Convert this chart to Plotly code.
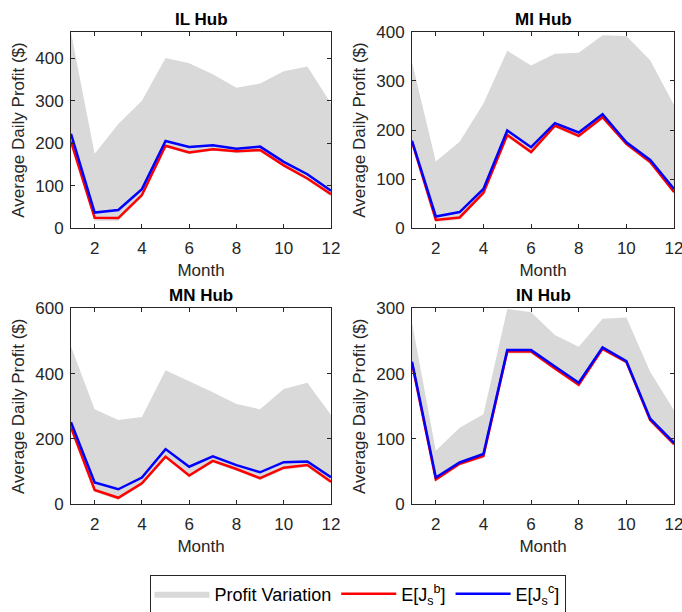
import plotly.graph_objects as go

months = list(range(1, 13))

hubs = ["IL Hub", "MI Hub", "MN Hub", "IN Hub"]

il_upper = [460, 175, 245, 300, 400, 388, 362, 330, 340, 369, 380, 293]
il_lower = [200, 18, 18, 73, 190, 174, 182, 177, 180, 144, 113, 76]
il_eb = [204, 25, 24, 78, 194, 178, 186, 181, 184, 148, 117, 80]
il_ec = [222, 37, 43, 92, 205, 191, 195, 187, 192, 156, 127, 88]

mi_upper = [338, 136, 176, 254, 361, 331, 355, 357, 393, 391, 342, 251]
mi_lower = [172, 13, 18, 68, 186, 151, 205, 184, 222, 168, 131, 70]
mi_eb = [176, 17, 22, 72, 190, 155, 209, 188, 226, 172, 135, 74]
mi_ec = [178, 24, 33, 80, 199, 165, 214, 195, 232, 175, 139, 80]

mn_upper = [483, 291, 258, 267, 410, 377, 343, 307, 291, 353, 372, 273]
mn_lower = [229, 38, 13, 58, 140, 82, 127, 102, 74, 106, 114, 63]
mn_eb = [235, 44, 20, 64, 146, 88, 133, 108, 80, 112, 120, 69]
mn_ec = [251, 67, 46, 82, 169, 115, 147, 120, 98, 129, 131, 83]

in_upper = [278, 82, 117, 138, 299, 294, 259, 241, 284, 286, 203, 144]
in_lower = [213, 35, 59, 71, 231, 231, 205, 180, 235, 215, 126, 89]
in_eb = [216, 38, 62, 74, 234, 234, 208, 183, 238, 218, 129, 92]
in_ec = [218, 41, 64, 77, 236, 236, 211, 186, 240, 219, 131, 94]

y_ranges = [[0, 462], [0, 400], [0, 600], [0, 300]]
y_dticks = [100, 100, 200, 100]

data = [
    (il_upper, il_lower, il_eb, il_ec),
    (mi_upper, mi_lower, mi_eb, mi_ec),
    (mn_upper, mn_lower, mn_eb, mn_ec),
    (in_upper, in_lower, in_eb, in_ec),
]

W, H = 682, 612
# axes pixel boxes: (x0, x1, ytop, ybottom)
boxes = [(71, 331, 31.7, 228.3), (412, 674, 31.7, 228.3),
         (71, 331, 308.3, 504.3), (412, 674, 308.3, 504.3)]
title_centers = [19.5, 19.5, 295, 295]

FONT = "Liberation Sans, Arial, Helvetica, sans-serif"
TXT = "#262626"
GRAY = "#d9d9d9"

fig = go.Figure()
layout = dict(
    width=W, height=H,
    margin=dict(l=0, r=0, t=0, b=0, autoexpand=False),
    paper_bgcolor="white", plot_bgcolor="white",
    font=dict(family=FONT, color=TXT, size=17),
    showlegend=True,
    legend=dict(
        orientation="h", x=357.5 / W, xanchor="center", y=1 - 574.5 / H, yanchor="top",
        bordercolor=TXT, borderwidth=1, bgcolor="white",
        font=dict(family=FONT, size=18, color="#000000"),
        itemwidth=55, tracegroupgap=0,
    ),
    annotations=[],
)

for i, (hub, (up, lo, eb, ec)) in enumerate(zip(hubs, data)):
    xa = "x" if i == 0 else f"x{i+1}"
    ya = "y" if i == 0 else f"y{i+1}"
    first = i == 0
    fig.add_trace(go.Scatter(
        x=months + months[::-1], y=up + lo[::-1], fill="toself",
        fillcolor=GRAY, line=dict(width=0, color=GRAY), mode="lines",
        name="Profit Variation", showlegend=first, legendgroup="pv",
        xaxis=xa, yaxis=ya, hoverinfo="skip"))
    fig.add_trace(go.Scatter(
        x=months, y=eb, mode="lines", line=dict(color="#ff0000", width=2.5),
        name="E[J<sub>s</sub><sup>b</sup>]", showlegend=first, legendgroup="eb",
        xaxis=xa, yaxis=ya))
    fig.add_trace(go.Scatter(
        x=months, y=ec, mode="lines", line=dict(color="#0000ff", width=2.5),
        name="E[J<sub>s</sub><sup>c</sup>]", showlegend=first, legendgroup="ec",
        xaxis=xa, yaxis=ya))

    x0, x1, yt, yb = boxes[i]
    xkey = "xaxis" if i == 0 else f"xaxis{i+1}"
    ykey = "yaxis" if i == 0 else f"yaxis{i+1}"
    layout[xkey] = dict(
        domain=[x0 / W, x1 / W], anchor=ya, range=[1, 12],
        tickmode="array", tickvals=[2, 4, 6, 8, 10, 12],
        ticks="inside", ticklen=4, tickcolor=TXT, tickwidth=1,
        showline=True, linecolor=TXT, linewidth=1, mirror="ticks",
        showgrid=False, zeroline=False, ticklabeloverflow="allow",
        ticklabelstandoff=4,
        tickfont=dict(size=17, color=TXT, family=FONT),
        title=dict(text="Month", font=dict(size=17, color=TXT, family=FONT), standoff=7),
    )
    layout[ykey] = dict(
        domain=[1 - yb / H, 1 - yt / H], anchor=xa, range=y_ranges[i],
        dtick=y_dticks[i], tick0=0,
        ticks="inside", ticklen=4, tickcolor=TXT, tickwidth=1,
        showline=True, linecolor=TXT, linewidth=1, mirror="ticks",
        showgrid=False, zeroline=False, ticklabeloverflow="allow",
        ticklabelstandoff=3,
        tickfont=dict(size=17, color=TXT, family=FONT),
        title=dict(text="Average Daily Profit ($)", font=dict(size=17, color=TXT, family=FONT), standoff=6),
    )
    layout["annotations"].append(dict(
        text=f"<b>{hub}</b>", x=(x0 + x1) / 2 / W, y=1 - title_centers[i] / H,
        xref="paper", yref="paper", xanchor="center", yanchor="middle",
        showarrow=False, font=dict(size=17, color="#000000", family=FONT)))

fig.update_layout(**layout)
fig.write_html("out.html")
